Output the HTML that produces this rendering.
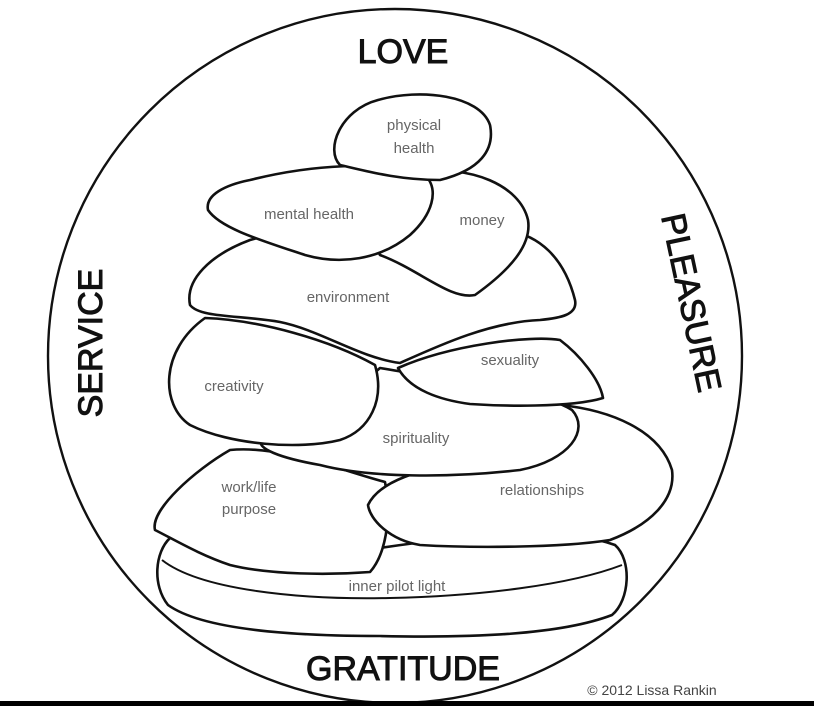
<!DOCTYPE html>
<html><head><style>
html,body{margin:0;padding:0;background:#fff;}
svg{display:block}
.s{fill:#fff;stroke:#111;stroke-width:2.6;stroke-linejoin:round}
.t{font-family:"Liberation Sans",sans-serif;font-size:15px;fill:#666;text-anchor:middle}
.h{font-family:"Liberation Sans Narrow","Liberation Sans",sans-serif;font-size:34px;fill:#111;stroke:#111;stroke-width:1;text-anchor:middle}
</style></head><body>
<svg width="814" height="706" viewBox="0 0 814 706">
<circle cx="395" cy="356" r="347" fill="none" stroke="#111" stroke-width="2.4"/>
<path class="s" d="M170,538 C230,525 300,560 380,548 C460,536 560,525 615,545 C632,560 630,600 612,615 C560,635 470,638 380,636 C280,636 200,628 168,605 C152,585 155,552 170,538 Z"/>
<path d="M162,560 C200,590 300,600 390,598 C480,596 570,585 622,565" fill="none" stroke="#111" stroke-width="2"/>
<path class="s" d="M230,450 C280,445 340,470 385,482 C392,520 385,555 370,572 C330,575 270,575 230,565 C200,555 175,540 155,530 C150,510 195,470 230,450 Z"/>
<path class="s" d="M560,405 C610,410 660,430 672,470 C676,500 650,525 610,540 C560,548 470,548 420,545 C390,540 370,520 368,505 C380,480 420,470 470,460 C510,440 530,410 560,405 Z"/>
<path class="s" d="M380,368 C450,380 540,390 572,410 C590,430 570,460 520,470 C450,478 370,478 320,465 C280,458 255,448 262,440 C300,420 350,395 380,368 Z"/>
<path class="s" d="M205,318 C260,320 330,340 375,365 C385,400 370,430 340,440 C300,450 230,445 190,425 C160,405 160,350 205,318 Z"/>
<path class="s" d="M398,368 C450,345 530,335 560,340 C580,355 600,380 603,398 C570,408 500,406 470,404 C440,400 410,390 398,368 Z"/>
<path class="s" d="M250,240 C300,225 420,225 500,230 C540,232 565,260 575,300 C578,315 560,318 540,320 C490,322 440,345 400,363 C360,358 320,330 280,322 C240,315 200,318 190,305 C185,280 210,255 250,240 Z"/>
<path class="s" d="M420,172 C470,165 520,185 528,220 C532,245 510,270 475,295 C450,300 420,270 380,255 C370,240 390,185 420,172 Z"/>
<path class="s" d="M250,180 C310,165 380,160 425,175 C440,190 432,215 410,235 C380,260 340,265 305,255 C260,240 220,228 208,210 C205,195 225,185 250,180 Z"/>
<path class="s" d="M378,100 C420,88 480,95 490,125 C495,150 480,170 440,180 C400,180 370,172 340,165 C325,150 340,110 378,100 Z"/>
<text class="t" x="414" y="130">physical</text>
<text class="t" x="414" y="153">health</text>
<text class="t" x="309" y="219">mental health</text>
<text class="t" x="482" y="225">money</text>
<text class="t" x="348" y="302">environment</text>
<text class="t" x="510" y="365">sexuality</text>
<text class="t" x="234" y="391">creativity</text>
<text class="t" x="416" y="443">spirituality</text>
<text class="t" x="542" y="495">relationships</text>
<text class="t" x="249" y="492">work/life</text>
<text class="t" x="249" y="514">purpose</text>
<text class="t" x="397" y="591">inner pilot light</text>
<text class="h" x="403" y="63">LOVE</text>
<text class="h" x="403" y="680">GRATITUDE</text>
<text class="h" transform="translate(102,343) rotate(-90)">SERVICE</text>
<text class="h" transform="translate(680,305) rotate(78)">PLEASURE</text>
<text x="652" y="695" style="font-family:'Liberation Sans',sans-serif;font-size:14px;fill:#444;text-anchor:middle">© 2012 Lissa Rankin</text>
<rect x="0" y="701" width="814" height="5" fill="#000"/>
</svg>
</body></html>
